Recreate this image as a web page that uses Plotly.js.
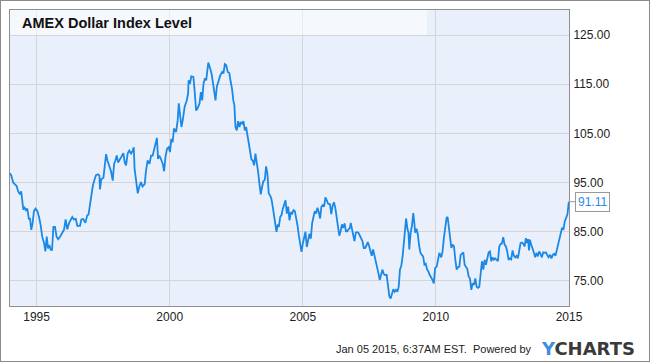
<!DOCTYPE html>
<html>
<head>
<meta charset="utf-8">
<script src="https://cdn.plot.ly/plotly-3.0.1.min.js"></script>
<style>
html,body{margin:0;padding:0;background:#fff;}
#wrap{position:relative;width:650px;height:362px;}
#chart{width:650px;height:362px;}
#frame{position:absolute;left:0;top:0;width:650px;height:362px;box-sizing:border-box;border:1px solid #8a8a8a;pointer-events:none;}
</style>
</head>
<body>
<div id="wrap"><div id="chart"></div><div id="frame"></div></div>
<script>
// Chart data (decimal years and AMEX Dollar Index level)
const chartTitle = "AMEX Dollar Index Level";
const years = [
1994.00,1994.05,1994.12,1994.17,1994.25,1994.30,1994.37,1994.42,1994.46,1994.50,1994.55,1994.60,1994.65,1994.71,1994.75,1994.80,1994.85,1994.90,1994.96,
1995.03,1995.09,1995.15,1995.21,1995.28,1995.33,1995.38,1995.43,1995.48,1995.53,1995.58,1995.63,1995.69,1995.75,1995.81,1995.88,1995.96,
1996.03,1996.09,1996.15,1996.22,1996.28,1996.34,1996.40,1996.47,1996.53,1996.63,1996.68,1996.75,1996.83,1996.90,1996.95,
1997.00,1997.06,1997.11,1997.18,1997.23,1997.31,1997.36,1997.38,1997.43,1997.51,1997.56,1997.61,1997.66,1997.72,1997.79,1997.86,1997.91,1997.96,
1998.01,1998.06,1998.11,1998.18,1998.26,1998.31,1998.36,1998.42,1998.48,1998.55,1998.61,1998.65,1998.68,1998.73,1998.80,1998.86,1998.92,1998.98,
1999.06,1999.11,1999.17,1999.24,1999.30,1999.36,1999.42,1999.46,1999.52,1999.56,1999.61,1999.67,1999.74,1999.79,1999.84,1999.90,1999.96,
2000.01,2000.06,2000.11,2000.16,2000.24,2000.30,2000.34,2000.39,2000.44,2000.49,2000.56,2000.64,2000.69,2000.71,2000.76,2000.81,2000.89,2000.94,2000.99,
2001.04,2001.12,2001.17,2001.22,2001.27,2001.32,2001.37,2001.42,2001.45,2001.52,2001.57,2001.62,2001.67,2001.72,2001.77,2001.84,2001.90,2001.97,
2002.02,2002.07,2002.12,2002.18,2002.24,2002.29,2002.34,2002.39,2002.43,2002.47,2002.52,2002.57,2002.62,2002.67,2002.72,2002.77,2002.82,2002.87,2002.92,2002.97,
2003.02,2003.07,2003.12,2003.17,2003.22,2003.27,2003.32,2003.37,2003.42,2003.47,2003.52,2003.57,2003.62,2003.67,2003.72,2003.77,2003.82,2003.87,2003.92,2003.97,
2004.01,2004.06,2004.10,2004.15,2004.20,2004.25,2004.30,2004.35,2004.40,2004.45,2004.50,2004.55,2004.60,2004.65,2004.70,2004.75,2004.80,2004.85,2004.90,2004.95,
2005.00,2005.05,2005.10,2005.15,2005.20,2005.25,2005.30,2005.35,2005.40,2005.45,2005.50,2005.55,2005.60,2005.65,2005.70,2005.75,2005.80,2005.85,2005.90,2005.95,
2006.02,2006.07,2006.12,2006.17,2006.22,2006.27,2006.32,2006.37,2006.42,2006.47,2006.52,2006.57,2006.62,2006.67,2006.72,2006.77,2006.80,2006.84,2006.89,2006.94,2006.99,
2007.04,2007.09,2007.14,2007.19,2007.24,2007.29,2007.34,2007.39,2007.44,2007.49,2007.54,2007.59,2007.64,2007.69,2007.74,2007.79,2007.84,2007.89,2007.94,2007.99,
2008.04,2008.09,2008.15,2008.20,2008.25,2008.30,2008.35,2008.40,2008.45,2008.50,2008.55,2008.60,2008.65,2008.70,2008.75,2008.80,2008.85,2008.88,2008.93,2008.97,
2009.00,2009.05,2009.10,2009.15,2009.19,2009.22,2009.27,2009.32,2009.37,2009.42,2009.47,2009.52,2009.57,2009.62,2009.67,2009.72,2009.77,2009.82,2009.87,2009.92,2009.97,
2010.03,2010.08,2010.13,2010.20,2010.25,2010.30,2010.35,2010.40,2010.44,2010.48,2010.53,2010.58,2010.63,2010.68,2010.73,2010.78,2010.83,2010.88,2010.93,2010.98,
2011.03,2011.08,2011.13,2011.18,2011.23,2011.28,2011.33,2011.38,2011.43,2011.48,2011.53,2011.58,2011.63,2011.68,2011.73,2011.78,2011.83,2011.88,2011.93,2011.98,
2012.03,2012.08,2012.13,2012.18,2012.23,2012.28,2012.33,2012.38,2012.43,2012.48,2012.53,2012.58,2012.63,2012.68,2012.73,2012.78,2012.83,2012.88,2012.93,2012.98,
2013.03,2013.08,2013.13,2013.18,2013.23,2013.28,2013.33,2013.38,2013.42,2013.46,2013.50,2013.53,2013.58,2013.63,2013.68,2013.73,2013.78,2013.83,2013.88,2013.93,2013.98,
2014.03,2014.08,2014.13,2014.18,2014.23,2014.29,2014.34,2014.39,2014.44,2014.49,2014.54,2014.59,2014.64,2014.69,2014.74,2014.79,2014.84,2014.89,2014.94,2014.99,2015.00
];
const levels = [
96.9,96.4,95.0,94.7,94.3,93.3,92.6,93.2,91.2,89.5,89.9,89.4,89.7,87.5,87.8,85.4,86.8,89.2,89.7,
89.2,88.0,86.4,84.0,82.7,81.0,84.0,81.6,82.3,81.3,81.3,86.0,86.0,84.0,83.5,84.0,84.9,
85.4,87.5,85.5,86.8,87.5,88.0,87.5,87.6,86.2,86.2,87.5,87.6,86.8,88.3,88.5,
90.5,92.9,94.3,95.7,96.5,96.7,96.4,93.6,95.7,96.0,98.4,100.8,99.5,98.4,97.4,95.4,98.8,99.5,
100.5,99.1,99.5,100.2,101.0,99.1,98.5,100.9,101.5,100.9,101.5,102.2,97.8,96.1,92.8,94.2,95.1,94.2,
94.7,97.4,99.5,98.8,100.5,100.5,101.9,102.6,104.1,99.8,100.5,99.8,98.8,97.3,100.2,101.9,102.2,
101.2,103.9,103.2,106.0,105.3,107.7,111.1,108.7,106.3,107.7,110.4,111.7,113.1,115.8,115.1,116.6,116.5,113.4,109.7,
110.0,111.1,113.4,111.7,115.1,116.2,115.8,118.2,119.4,118.2,117.2,115.5,113.1,111.7,114.5,115.8,116.8,117.5,
117.2,119.1,118.9,117.5,117.3,115.5,114.1,111.7,110.7,106.3,105.6,107.5,106.3,107.3,107.0,107.5,105.6,106.3,104.6,102.6,
101.6,99.7,99.5,98.5,100.9,99.2,97.2,94.8,92.6,94.1,95.3,95.5,98.3,96.8,92.8,92.4,91.7,90.1,88.0,86.7,
85.0,86.5,86.0,88.0,88.4,89.7,90.4,91.4,88.7,90.1,87.3,89.0,88.7,89.4,89.2,88.0,86.3,84.3,82.3,80.9,
82.6,83.9,85.0,81.9,83.6,84.6,83.6,86.7,88.0,89.2,88.7,89.9,89.0,87.7,90.1,90.4,90.1,92.0,91.4,90.7,
90.6,88.6,90.3,91.0,89.9,88.2,86.2,84.2,85.1,86.5,85.8,86.7,85.1,85.1,85.5,85.8,86.8,85.5,84.8,83.1,84.8,
84.9,84.8,84.2,83.8,83.1,81.7,81.7,82.2,82.9,82.1,80.7,80.1,81.4,80.3,78.6,78.1,76.6,75.2,76.2,77.3,
76.4,76.2,76.2,73.8,71.9,71.4,72.5,73.3,72.8,73.2,72.8,73.7,77.3,78.1,80.0,82.7,85.5,87.7,85.6,84.8,
81.4,84.8,86.2,88.8,86.8,84.8,85.6,84.5,82.2,80.7,80.3,80.0,78.3,78.5,77.3,76.9,76.2,75.8,75.2,74.5,77.6,
77.9,79.2,80.7,79.8,81.0,83.7,86.1,87.8,88.0,86.1,83.7,81.7,82.4,82.0,79.3,77.3,77.8,77.9,80.3,80.5,
80.8,78.3,77.9,77.4,75.9,75.5,73.2,74.5,74.2,75.5,73.8,73.6,73.8,75.9,79.0,77.3,79.3,78.3,79.6,80.8,
81.0,79.0,79.8,79.3,79.6,79.3,79.0,82.0,82.5,82.6,83.9,82.4,82.0,81.0,79.3,79.6,79.4,81.2,80.1,79.8,
80.1,79.6,81.0,82.7,82.8,82.6,82.0,83.7,82.7,83.5,81.2,83.4,82.4,81.7,80.8,79.8,80.7,80.0,81.0,80.5,79.8,
80.8,80.7,80.8,80.3,79.8,80.3,79.6,80.3,80.5,80.1,81.2,82.0,83.7,84.4,85.8,85.4,87.1,87.8,88.5,90.9,91.11
];
const xTickVals = [1995, 2000, 2005, 2010, 2015];
const xTickText = ["1995", "2000", "2005", "2010", "2015"];
const yTickVals = [75, 85, 95, 105, 115, 125];
const lastValueText = "91.11";
const footerText = "Jan 05 2015, 6:37AM EST.  Powered by";
const logoText = '<b><span style="color:#3c8ddc">Y</span>CHARTS</b>';

const font = "Liberation Sans, Arial, sans-serif";
const lastX = years[years.length - 1];
const lastY = levels[levels.length - 1];

const trace = {
  x: years, y: levels, type: "scatter", mode: "lines",
  line: {color: "#1a88e6", width: 1.8}, hoverinfo: "skip"
};

const layout = {
  width: 650, height: 362,
  margin: {l: 10, r: 81, t: 10, b: 56, pad: 0},
  paper_bgcolor: "#ffffff",
  plot_bgcolor: "#e9f0fb",
  showlegend: false,
  font: {family: font, size: 12, color: "#333"},
  xaxis: {
    range: [1994.0, 2015.0], tickmode: "array", tickvals: xTickVals, ticktext: xTickText,
    showgrid: true, gridcolor: "#d5d5d5", gridwidth: 1, zeroline: false,
    showline: true, linecolor: "#8f8f8f", linewidth: 1, mirror: true,
    ticks: "", tickfont: {family: font, size: 12, color: "#222"}
  },
  yaxis: {
    range: [69.9, 130.1], side: "right", tickmode: "array", tickvals: yTickVals,
    tickformat: ".2f", showgrid: true, gridcolor: "#d5d5d5", gridwidth: 1, zeroline: false,
    showline: true, linecolor: "#8f8f8f", linewidth: 1, mirror: true,
    ticks: "outside", ticklen: 1, tickcolor: "rgba(0,0,0,0)",
    tickfont: {family: font, size: 12, color: "#222"}
  },
  shapes: [
    {type: "rect", xref: "paper", yref: "paper", x0: 0, x1: 0.746, y0: 0.9155, y1: 1,
     fillcolor: "rgba(255,255,255,0.55)", line: {width: 0}, layer: "above"}
  ],
  annotations: [
    {text: "<b>" + chartTitle + "</b>", xref: "paper", yref: "paper", x: 0.0185, y: 0.957,
     xanchor: "left", yanchor: "middle", showarrow: false,
     font: {family: font, size: 14.5, color: "#111"}},
    {text: lastValueText, x: lastX, y: lastY, xref: "x", yref: "y",
     showarrow: true, arrowhead: 0, arrowwidth: 1, arrowcolor: "#999", ax: 23, ay: 0,
     standoff: 0, xanchor: "center", yanchor: "middle",
     bgcolor: "#ffffff", bordercolor: "#999", borderwidth: 1, borderpad: 2,
     font: {family: font, size: 12, color: "#2a8be6"}},
    {text: footerText, xref: "paper", yref: "paper", x: 0.9374, y: -0.145,
     xanchor: "right", yanchor: "middle", showarrow: false,
     font: {family: font, size: 11, color: "#222"}},
    {text: logoText, xref: "paper", yref: "paper", x: 0.946, y: -0.143,
     xanchor: "left", yanchor: "middle", showarrow: false,
     font: {family: "DejaVu Sans, sans-serif", size: 18, color: "#3a3a3a"}}
  ]
};

Plotly.newPlot("chart", [trace], layout, {staticPlot: true, displayModeBar: false});
</script>
</body>
</html>
